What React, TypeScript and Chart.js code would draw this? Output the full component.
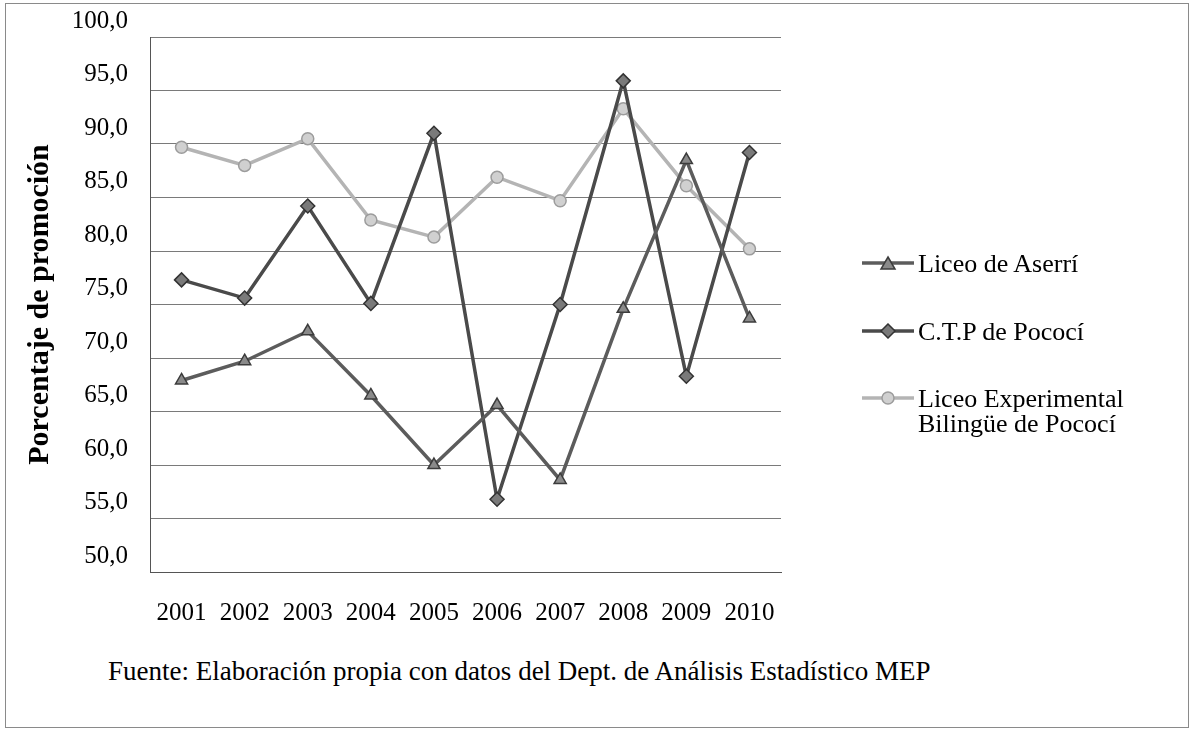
import React, { useEffect, useRef } from 'react';
import { Chart, registerables } from 'chart.js';

Chart.register(...registerables);

const years = ['2001', '2002', '2003', '2004', '2005', '2006', '2007', '2008', '2009', '2010'];
const liceoAserri = [67.9, 69.7, 72.5, 66.5, 60.0, 65.6, 58.6, 74.6, 88.5, 73.7];
const ctpPococi = [77.3, 75.6, 84.2, 75.1, 91.0, 56.8, 75.0, 95.9, 68.3, 89.2];
const liceoBilingue = [89.7, 88.0, 90.5, 82.9, 81.3, 86.9, 84.7, 93.3, 86.1, 80.2];

const seriesNames = ['Liceo de Aserrí', 'C.T.P de Pococí', 'Liceo Experimental\nBilingüe de Pococí'];
const yTitle = 'Porcentaje de promoción';
const footnote = 'Fuente: Elaboración propia con datos del Dept. de Análisis Estadístico MEP';

const FONT = "'Liberation Serif', 'Times New Roman', serif";

const styles = [
  { line: '#5c5c5c', fill: '#8a8a8a', edge: '#3c3c3c', shape: 'triangle', r: 7 },
  { line: '#4a4a4a', fill: '#7a7a7a', edge: '#333333', shape: 'rectRot', r: 7 },
  { line: '#b4b4b4', fill: '#d0d0d0', edge: '#9c9c9c', shape: 'circle', r: 6 },
];

function Marker({ idx }: { idx: number }) {
  const s = styles[idx];
  let shape: any = null;
  if (s.shape === 'triangle') {
    shape = <polygon points="26,2 33,14 19,14" fill={s.fill} stroke={s.edge} strokeWidth={1.5} />;
  } else if (s.shape === 'rectRot') {
    shape = <polygon points="26,1 33,8 26,15 19,8" fill={s.fill} stroke={s.edge} strokeWidth={1.5} />;
  } else {
    shape = <circle cx={26} cy={8} r={6} fill={s.fill} stroke={s.edge} strokeWidth={1.5} />;
  }
  return (
    <svg width={52} height={16} style={{ display: 'block' }}>
      <line x1={0} y1={8} x2={52} y2={8} stroke={s.line} strokeWidth={3.5} />
      {shape}
    </svg>
  );
}

export default function App() {
  const ref = useRef<HTMLCanvasElement | null>(null);

  useEffect(() => {
    if (!ref.current) return;
    const data = [liceoAserri, ctpPococi, liceoBilingue];
    const chart = new Chart(ref.current, {
      type: 'line',
      data: {
        labels: years,
        datasets: data.map((d, i) => ({
          label: seriesNames[i],
          data: d,
          borderColor: styles[i].line,
          backgroundColor: styles[i].fill,
          pointBackgroundColor: styles[i].fill,
          pointBorderColor: styles[i].edge,
          pointBorderWidth: 1.5,
          pointStyle: styles[i].shape as any,
          pointRadius: styles[i].r,
          borderWidth: 3.5,
          tension: 0,
          fill: false,
        })),
      },
      options: {
        responsive: false,
        devicePixelRatio: 1,
        animation: false,
        layout: { padding: { top: 33, right: 413, bottom: 0, left: 0 } },
        plugins: {
          legend: { display: false },
          tooltip: { enabled: false },
        },
        scales: {
          x: {
            offset: true,
            grid: { display: false, drawTicks: false },
            border: { display: true, color: '#555', width: 1 },
            ticks: {
              color: '#000',
              font: { family: FONT, size: 25 },
              padding: 26,
              maxRotation: 0,
            },
            afterFit: (axis: any) => {
              axis.height = 68;
            },
          },
          y: {
            min: 50,
            max: 100,
            grid: { color: '#7a7a7a', lineWidth: 1, drawTicks: false },
            border: { display: true, color: '#555', width: 1 },
            ticks: {
              stepSize: 5,
              color: '#000',
              font: { family: FONT, size: 25 },
              padding: 22,
              labelOffset: -16,
              callback: (v: any) => Number(v).toFixed(1).replace('.', ','),
            },
            title: {
              display: true,
              text: yTitle,
              color: '#000',
              font: { family: FONT, size: 30, weight: 'bold' },
              padding: { top: 22, bottom: 0 },
            },
            afterFit: (axis: any) => {
              axis.width = 150;
            },
          },
        },
      },
    });
    return () => chart.destroy();
  }, []);

  const legendText: React.CSSProperties = {
    fontFamily: FONT,
    fontSize: 26,
    color: '#000',
    lineHeight: '25px',
    whiteSpace: 'pre',
  };

  return (
    <div style={{ position: 'absolute', left: 0, top: 0, width: 1194, height: 743, background: '#fff' }}>
      <div
        style={{
          position: 'absolute',
          left: 5,
          top: 3,
          width: 1182,
          height: 723,
          border: '1px solid #8a8a8a',
        }}
      />
      <canvas ref={ref} width={1194} height={640} style={{ position: 'absolute', left: 0, top: 0 }} />
      {[0, 1, 2].map((i) => (
        <div
          key={i}
          style={{ position: 'absolute', left: 862, top: [251, 319, 386][i], display: 'flex', alignItems: 'flex-start' }}
        >
          <div style={{ marginTop: 4 }}>
            <Marker idx={i} />
          </div>
          <div style={{ ...legendText, marginLeft: 4 }}>{seriesNames[i]}</div>
        </div>
      ))}
      <div
        style={{
          position: 'absolute',
          left: 108,
          top: 656,
          fontFamily: FONT,
          fontSize: 27,
          color: '#000',
          whiteSpace: 'nowrap',
          lineHeight: '31px',
        }}
      >
        {footnote}
      </div>
    </div>
  );
}
